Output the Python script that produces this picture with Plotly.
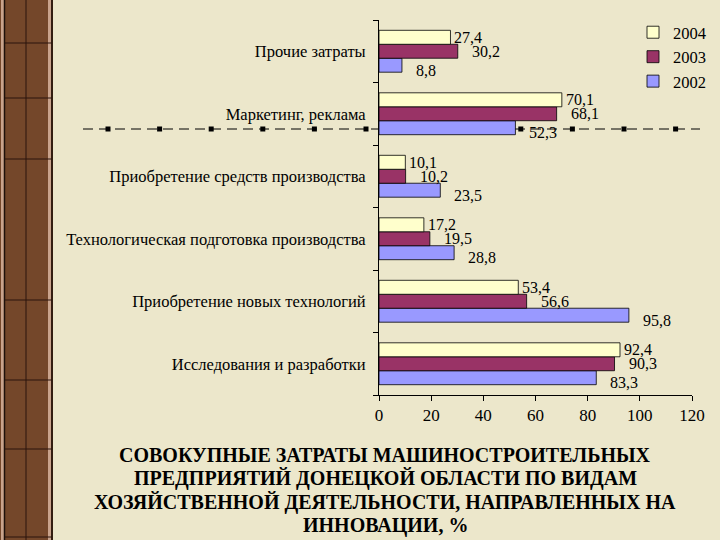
"""Horizontal grouped bars: innovation spending by activity type, 2002-2004."""

import plotly.graph_objects as go

# --- data -------------------------------------------------------------
categories = [
    "Исследования и разработки",
    "Приобретение новых технологий",
    "Технологическая подготовка производства",
    "Приобретение средств производства",
    "Маркетинг, реклама",
    "Прочие затраты",
]
years = ["2002", "2003", "2004"]
values_2002 = [83.3, 95.8, 28.8, 23.5, 52.3, 8.8]
values_2003 = [90.3, 56.6, 19.5, 10.2, 68.1, 30.2]
values_2004 = [92.4, 53.4, 17.2, 10.1, 70.1, 27.4]
x_ticks = [0, 20, 40, 60, 80, 100, 120]

title_lines = [
    "СОВОКУПНЫЕ ЗАТРАТЫ МАШИНОСТРОИТЕЛЬНЫХ",
    "ПРЕДПРИЯТИЙ ДОНЕЦКОЙ ОБЛАСТИ ПО ВИДАМ",
    "ХОЗЯЙСТВЕННОЙ ДЕЯТЕЛЬНОСТИ, НАПРАВЛЕННЫХ НА",
    "ИННОВАЦИИ, %",
]

# --- style --------------------------------------------------------------
W, H = 720, 540
M_L, M_R, M_T, M_B = 379, 28, 20, 145
PLOT_W = W - M_L - M_R
PLOT_H = H - M_T - M_B

SERIF = "Times New Roman, Liberation Serif, serif"
BG = "#ECE7CB"
colors = {"2002": "#9999FF", "2003": "#993366", "2004": "#FFFFCC"}
# value label offsets (px) per series: x shift, y shift relative to category centre
label_shift = {"2002": (12, -19), "2003": (12, 0), "2004": (2, 14)}


def px_x(px):
    """Pixel column -> paper x."""
    return (px - M_L) / PLOT_W


def px_y(py):
    """Pixel row -> paper y."""
    return (H - M_B - py) / PLOT_H


fig = go.Figure()
annotations = []
for year, vals in zip(years, [values_2002, values_2003, values_2004]):
    fig.add_trace(
        go.Bar(
            y=categories,
            x=vals,
            name=year,
            orientation="h",
            marker=dict(color=colors[year], line=dict(color="black", width=0.8)),
            textposition="none",
        )
    )
    dx, dy = label_shift[year]
    for cat, v in zip(categories, vals):
        annotations.append(dict(
            x=v, y=cat, xref="x", yref="y", text=f"{v:.1f}".replace(".", ","),
            xanchor="left", yanchor="middle", xshift=dx, yshift=dy, showarrow=False,
            font=dict(family=SERIF, size=16, color="black"),
        ))

shapes = []

# decorative left strip
shapes.append(dict(type="rect", xref="paper", yref="paper", x0=px_x(0), x1=px_x(53),
                   y0=px_y(H), y1=px_y(0), fillcolor="#74472A", line=dict(width=0),
                   layer="below"))
for edge in (1, 48):
    shapes.append(dict(type="rect", xref="paper", yref="paper", x0=px_x(edge),
                       x1=px_x(edge + 3), y0=px_y(H), y1=px_y(0),
                       fillcolor="#C9A38C", line=dict(width=0), layer="below"))
for edge in (4.5, 52):
    shapes.append(dict(type="line", xref="paper", yref="paper", x0=px_x(edge),
                       x1=px_x(edge), y0=px_y(H), y1=px_y(0),
                       line=dict(color="#1E100A", width=1.5), layer="below"))
shapes.append(dict(type="line", xref="paper", yref="paper", x0=px_x(26), x1=px_x(26),
                   y0=px_y(H), y1=px_y(0), line=dict(color="#2A140C", width=1),
                   layer="below"))
for row in (43, 98, 159, 300, 380, 449, 537):
    shapes.append(dict(type="line", xref="paper", yref="paper", x0=px_x(5), x1=px_x(52),
                       y0=px_y(row), y1=px_y(row), line=dict(color="#2A140C", width=1),
                       layer="below"))

# decorative dashed rule with square dots
rule_y = px_y(129)
shapes.append(dict(type="line", xref="paper", yref="paper", x0=px_x(83), x1=px_x(700),
                   y0=rule_y, y1=rule_y,
                   line=dict(color="black", width=1, dash="10px,6px"), layer="below"))
for k in range(12):
    cx = 108 + 51.6 * k
    shapes.append(dict(type="rect", xref="paper", yref="paper", x0=px_x(cx - 2.5),
                       x1=px_x(cx + 2.5), y0=px_y(131.5), y1=px_y(126.5),
                       fillcolor="black", line=dict(width=0), layer="below"))

# caption under the chart, one annotation per line to keep tight leading
for i, line in enumerate(title_lines):
    annotations.append(dict(
        text=line, xref="paper", yref="paper", x=px_x(385), y=px_y(455 + 23.5 * i),
        xanchor="center", yanchor="middle", showarrow=False,
        font=dict(family=SERIF, size=20, color="black", weight="bold"),
    ))

fig.update_layout(
    width=W,
    height=H,
    margin=dict(l=M_L, r=M_R, t=M_T, b=M_B, autoexpand=False),
    paper_bgcolor=BG,
    plot_bgcolor="rgba(0,0,0,0)",
    barmode="group",
    bargap=0.33,
    bargroupgap=0,
    font=dict(family=SERIF, size=15, color="black"),
    shapes=shapes,
    annotations=annotations,
    legend=dict(
        x=px_x(633),
        y=px_y(15),
        xanchor="left",
        yanchor="top",
        traceorder="reversed",
        bgcolor="rgba(0,0,0,0)",
        font=dict(family=SERIF, size=16.5),
        itemwidth=30,
        tracegroupgap=0,
    ),
    showlegend=True,
)
fig.update_xaxes(
    range=[0, 120],
    tickvals=x_ticks,
    showgrid=False,
    zeroline=False,
    showline=True,
    linecolor="black",
    linewidth=1,
    ticks="outside",
    ticklen=5,
    tickcolor="black",
    tickfont=dict(family=SERIF, size=17),
)
fig.update_yaxes(
    categoryorder="array",
    categoryarray=categories,
    showgrid=False,
    showline=True,
    linecolor="black",
    linewidth=1,
    ticks="outside",
    tickson="boundaries",
    ticklen=5,
    tickcolor="black",
    ticklabelstandoff=9,
    tickfont=dict(family=SERIF, size=16.5),
)

fig.write_html(
    "out.html",
    config={"displayModeBar": False},
    post_script="document.body.style.margin = '0';",
)
